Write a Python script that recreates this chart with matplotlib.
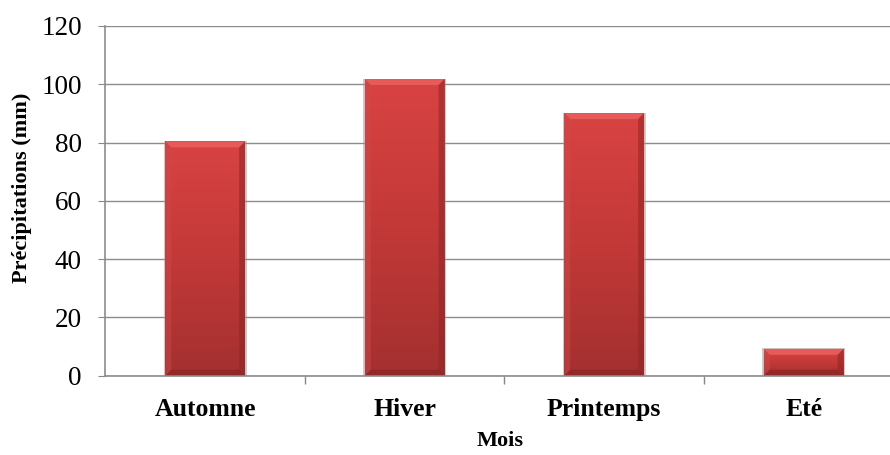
import numpy as np
import matplotlib.pyplot as plt
from matplotlib.patches import Polygon
from matplotlib.colors import LinearSegmentedColormap

saisons = ["Automne", "Hiver", "Printemps", "Eté"]
precip = [80.4, 101.8, 90.1, 9.2]

plt.rcParams['font.family'] = ['Liberation Serif', 'DejaVu Serif']

fig = plt.figure(figsize=(8.9, 4.55), dpi=100)
# la zone de trace deborde un peu a droite
ax = fig.add_axes([0.1185, 0.1743, 0.8966, 0.7686])

x = np.arange(len(saisons))
larg = 0.40
bars = ax.bar(x, precip, width=larg, color='#c63a39', zorder=3, linewidth=0)

ax.set_xlim(-0.5, len(saisons) - 0.5)
ax.set_ylim(0, 120)
ax.set_yticks(np.arange(0, 121, 20))
ax.set_xticks(x)
ax.set_xticklabels(saisons, fontsize=18.5, fontweight='bold')
ax.tick_params(axis='y', labelsize=19.5, length=5, color='#888888', pad=12)
ax.tick_params(axis='x', length=0, pad=16)
# separateurs de categories sous l'axe
ax.set_xticks(np.arange(0.5, len(saisons) - 0.5, 1), minor=True)
ax.tick_params(axis='x', which='minor', length=6, color='#888888', width=1)

ax.grid(axis='y', color='#8c8c8c', linewidth=1, zorder=0)
for s in ['top', 'right']:
    ax.spines[s].set_visible(False)
for s in ['left', 'bottom']:
    ax.spines[s].set_color('#8c8c8c')
    ax.spines[s].set_linewidth(1.2)
ax.spines['bottom'].set_zorder(4)

fig.text(22 / 890, 1 - 188 / 455, "Précipitations (mm)", rotation=90,
         ha='center', va='center', fontsize=16, fontweight='bold')
fig.text(500 / 890, 1 - 441 / 455, "Mois", ha='center', va='center',
         fontsize=16, fontweight='bold')

# degrade et biseau sur chaque barre
cmap = LinearSegmentedColormap.from_list('rouge', ['#a3302f', '#c23938', '#d84342'])
px_x = 1.0 / 199.5
px_y = 120.0 / 350.0
b = 6
for bar in bars:
    x0 = bar.get_x()
    w = bar.get_width()
    h = bar.get_height()
    x1 = x0 + w
    # ombre portee
    ax.add_patch(Polygon([(x0 - 1.5 * px_x, 0), (x1 + 1.5 * px_x, 0),
                          (x1 + 1.5 * px_x, h + 0.5 * px_y), (x0 - 1.5 * px_x, h + 0.5 * px_y)],
                         closed=True, facecolor='#9a9a9a', alpha=0.5, zorder=2, linewidth=0))
    grad = np.linspace(0, 1, 256).reshape(-1, 1)
    im = ax.imshow(grad, cmap=cmap, aspect='auto', origin='lower',
                   extent=(x0, x1, 0, h), zorder=3)
    im.set_clip_path(bar)
    bx = b * px_x
    by = min(b * px_y, h / 2.5)
    # haut clair
    ax.add_patch(Polygon([(x0, h), (x1, h), (x1 - bx, h - by), (x0 + bx, h - by)],
                         closed=True, facecolor='#e65a59', zorder=4, linewidth=0))
    # cote gauche
    ax.add_patch(Polygon([(x0, 0), (x0, h), (x0 + bx, h - by), (x0 + bx, by)],
                         closed=True, facecolor='#d04a49', zorder=4, linewidth=0, alpha=0.45))
    # cote droit
    ax.add_patch(Polygon([(x1, 0), (x1, h), (x1 - bx, h - by), (x1 - bx, by)],
                         closed=True, facecolor='#8f2625', zorder=4, linewidth=0, alpha=0.55))
    # bas sombre
    ax.add_patch(Polygon([(x0, 0), (x1, 0), (x1 - bx, by), (x0 + bx, by)],
                         closed=True, facecolor='#8e2726', zorder=4, linewidth=0, alpha=0.8))

ax.set_xlim(-0.5, len(saisons) - 0.5)
ax.set_ylim(0, 120)

fig.savefig('out.png', dpi=100)
